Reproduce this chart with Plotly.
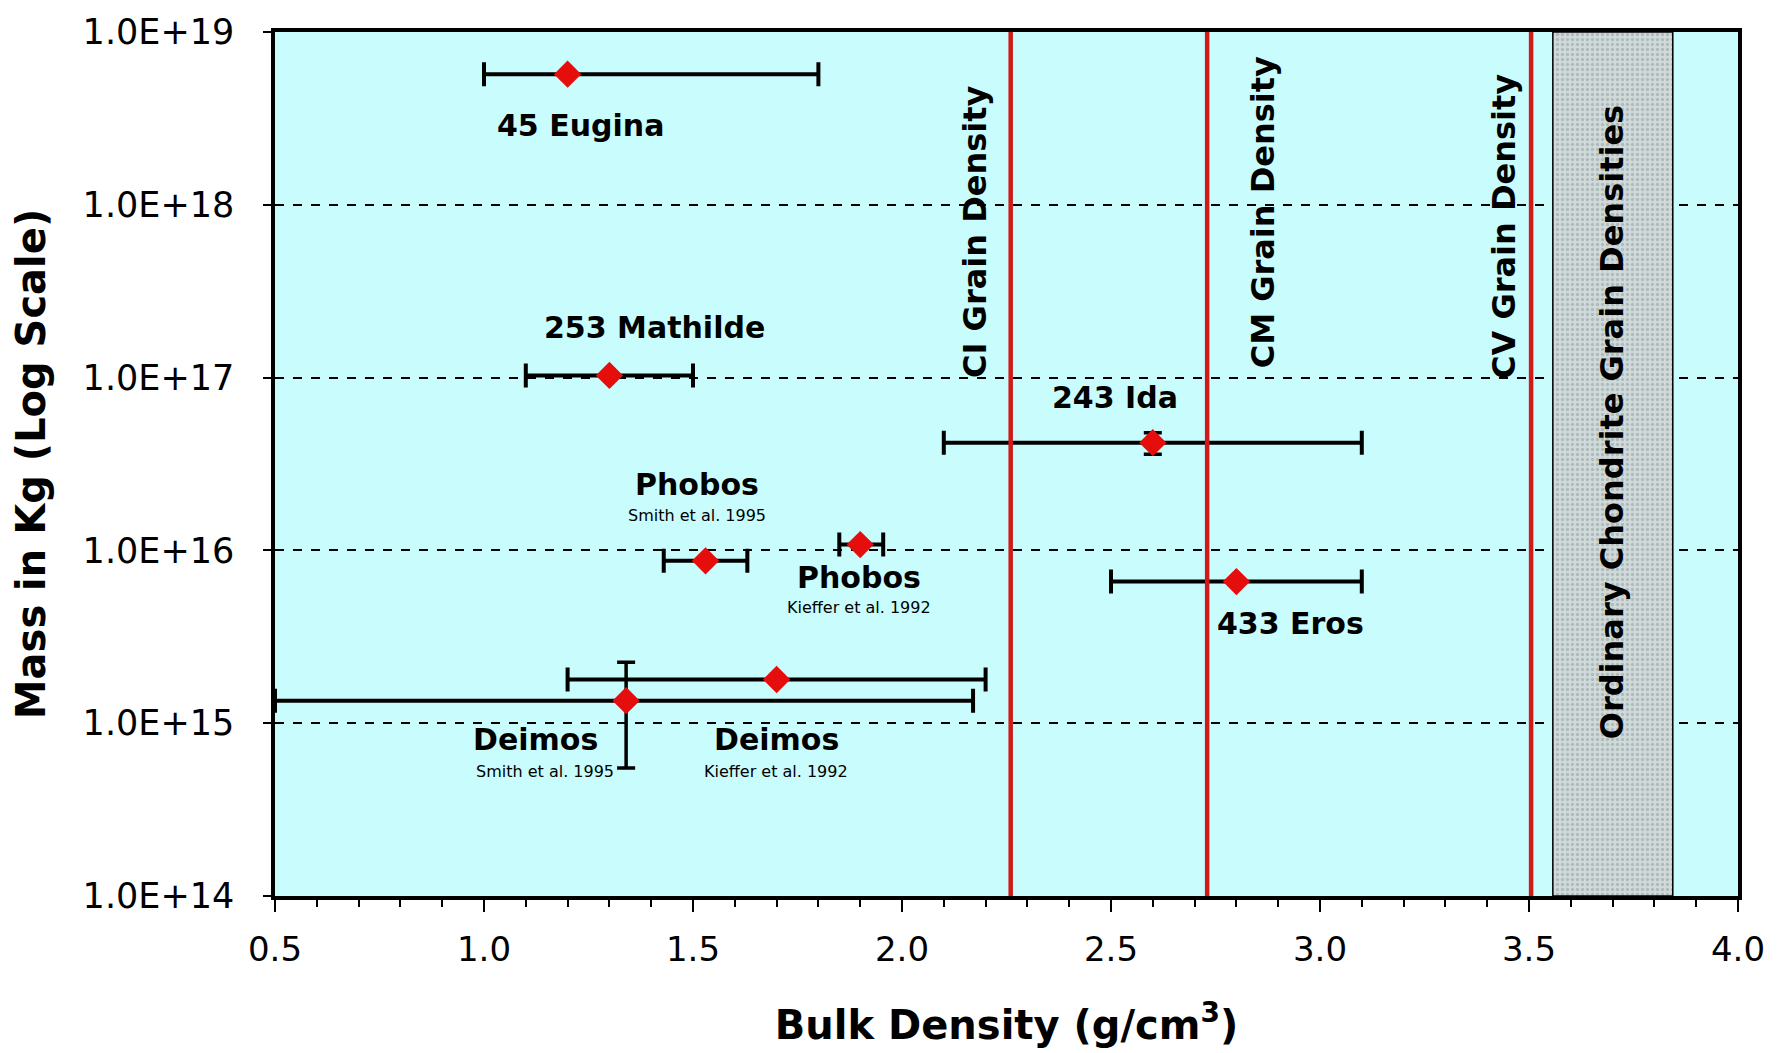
import plotly.graph_objects as go

# ---------------- data ----------------
names = ["45 Eugina", "253 Mathilde", "243 Ida", "Phobos (Smith et al. 1995)",
         "Phobos (Kieffer et al. 1992)", "433 Eros", "Deimos (Kieffer et al. 1992)",
         "Deimos (Smith et al. 1995)"]
density = [1.20, 1.30, 2.60, 1.53, 1.90, 2.80, 1.70, 1.34]
density_err_plus = [0.60, 0.20, 0.50, 0.10, 0.055, 0.30, 0.50, 0.83]
density_err_minus = [0.20, 0.20, 0.50, 0.10, 0.050, 0.30, 0.50, 0.84]
mass = [5.7e18, 1.03e17, 4.2e16, 8.7e15, 1.08e16, 6.6e15, 1.79e15, 1.35e15]
mass_err_plus = [0, 0, 0.6e16, 0, 0, 0, 0, 0.9e15]
mass_err_minus = [0, 0, 0.6e16, 0, 0, 0, 0, 0.8e15]

grain_names = ["CI Grain Density", "CM Grain Density", "CV Grain Density"]
grain_density = [2.26, 2.73, 3.505]

oc_name = "Ordinary Chondrite Grain Densities"
oc_range = [3.557, 3.844]

x_ticks = [0.5, 1.0, 1.5, 2.0, 2.5, 3.0, 3.5, 4.0]
x_tick_labels = ["0.5", "1.0", "1.5", "2.0", "2.5", "3.0", "3.5", "4.0"]
y_ticks = [1e14, 1e15, 1e16, 1e17, 1e18, 1e19]
y_tick_labels = ["1.0E+14", "1.0E+15", "1.0E+16", "1.0E+17", "1.0E+18", "1.0E+19"]

# label texts and their positions (x in g/cm3, y in log10 kg)
big_labels = ["45 Eugina", "253 Mathilde", "243 Ida", "Phobos", "Phobos", "433 Eros",
              "Deimos", "Deimos"]
big_label_x = [1.232, 1.408, 2.510, 1.509, 1.898, 2.929, 1.123, 1.699]
big_label_logy = [18.461, 17.292, 16.883, 16.383, 15.844, 15.578, 14.903, 14.903]
small_labels = ["Smith et al. 1995", "Kieffer et al. 1992", "Smith et al. 1995",
                "Kieffer et al. 1992"]
small_label_x = [1.509, 1.898, 1.145, 1.699]
small_label_logy = [16.201, 15.669, 14.721, 14.721]
vert_label_x = [2.175, 2.863, 3.440]
vert_label_logy = [17.844, 17.955, 17.877]
oc_label_x = 3.698
oc_label_logy = 16.740

# ---------------- styles ----------------
RED_LINE = "#d01a1a"
RED_MARK = "#e60d0d"
BG = "#c9fcfc"
FONT = "DejaVu Sans"

fig = go.Figure()

# ordinary chondrite band
fig.add_trace(go.Scatter(
    x=[oc_range[0], oc_range[1], oc_range[1], oc_range[0], oc_range[0]],
    y=[y_ticks[0], y_ticks[0], y_ticks[-1], y_ticks[-1], y_ticks[0]],
    mode="lines", fill="toself", fillcolor="#cdd7d7",
    fillpattern=dict(shape=".", bgcolor="#d0dada", fgcolor="#8d9b9b", size=5, solidity=0.35),
    line=dict(color="black", width=1.5), hoverinfo="skip", name=oc_name))

# data points
for i in range(len(names)):
    ey = None
    if mass_err_plus[i] > 0:
        ey = dict(type="data", symmetric=False, array=[mass_err_plus[i]],
                  arrayminus=[mass_err_minus[i]], color="black", thickness=3.5, width=9)
    fig.add_trace(go.Scatter(
        x=[density[i]], y=[mass[i]], mode="markers", name=names[i],
        marker=dict(symbol="diamond", size=21, color=RED_MARK, line=dict(width=0)),
        error_x=dict(type="data", symmetric=False, array=[density_err_plus[i]],
                     arrayminus=[density_err_minus[i]], color="black", thickness=4, width=12),
        error_y=ey))

# grain density lines
for g, gx in zip(grain_names, grain_density):
    fig.add_trace(go.Scatter(x=[gx, gx], y=[y_ticks[0], y_ticks[-1]], mode="lines",
                             line=dict(color=RED_LINE, width=4.5), name=g, hoverinfo="skip"))

# annotations
for t, x, y in zip(big_labels, big_label_x, big_label_logy):
    fig.add_annotation(x=x, y=y, text=t, showarrow=False,
                       font=dict(family=FONT, size=30, color="black", weight="bold"))
for t, x, y in zip(small_labels, small_label_x, small_label_logy):
    fig.add_annotation(x=x, y=y, text=t, showarrow=False,
                       font=dict(family=FONT, size=16, color="black"))
for t, x, y in zip(grain_names, vert_label_x, vert_label_logy):
    fig.add_annotation(x=x, y=y, text=t, showarrow=False, textangle=-90,
                       font=dict(family=FONT, size=32, color="black", weight="bold"))
fig.add_annotation(x=oc_label_x, y=oc_label_logy, text=oc_name, showarrow=False, textangle=-90,
                   font=dict(family=FONT, size=32, color="black", weight="bold"))

fig.update_layout(
    width=1783, height=1053,
    margin=dict(l=275, r=45, t=22, b=153),
    paper_bgcolor="white", plot_bgcolor=BG, showlegend=False,
    xaxis=dict(range=[0.5, 4.0], tickmode="array", tickvals=x_ticks, ticktext=x_tick_labels,
               ticks="outside", ticklen=12, tickwidth=2, tickcolor="black",
               minor=dict(tick0=0.5, dtick=0.1, ticks="outside", ticklen=7, tickwidth=2,
                          tickcolor="black", showgrid=False),
               showline=True, linewidth=3.5, linecolor="black", mirror=True,
               showgrid=False, zeroline=False, ticklabelstandoff=8,
               tickfont=dict(family=FONT, size=34, color="black"),
               title=dict(text="Bulk Density (g/cm<sup>3</sup>)", standoff=44,
                          font=dict(family=FONT, size=40, color="black", weight="bold"))),
    yaxis=dict(type="log", range=[14, 19], tickmode="array", tickvals=y_ticks,
               ticktext=y_tick_labels, ticks="outside", ticklen=8, tickwidth=2,
               tickcolor="black", showline=True, linewidth=3.5, linecolor="black", mirror=True,
               showgrid=True, gridcolor="black", gridwidth=1.5, griddash="dash",
               zeroline=False, ticklabelstandoff=22,
               tickfont=dict(family=FONT, size=35, color="black"),
               title=dict(text="Mass in Kg (Log Scale)", standoff=26,
                          font=dict(family=FONT, size=40, color="black", weight="bold"))),
)

fig.write_html("out.html", config={"displayModeBar": False},
               post_script="document.body.style.margin='0';document.body.style.overflow='hidden';")
